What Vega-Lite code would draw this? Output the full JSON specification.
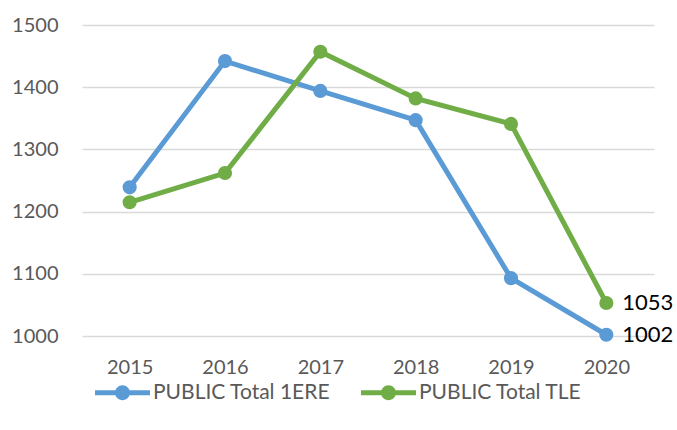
{
  "$schema": "https://vega.github.io/schema/vega-lite/v6.json",
  "width": 572,
  "height": 311,
  "autosize": "none",
  "padding": {"left": 82, "top": 25, "right": 23, "bottom": 94},
  "background": "white",
  "config": {"view": {"stroke": null}, "font": "Lato"},
  "data": {
    "values": [
      {"year": "2015", "series": "PUBLIC Total 1ERE", "value": 1239},
      {"year": "2016", "series": "PUBLIC Total 1ERE", "value": 1442},
      {"year": "2017", "series": "PUBLIC Total 1ERE", "value": 1394},
      {"year": "2018", "series": "PUBLIC Total 1ERE", "value": 1347},
      {"year": "2019", "series": "PUBLIC Total 1ERE", "value": 1093},
      {"year": "2020", "series": "PUBLIC Total 1ERE", "value": 1002},
      {"year": "2015", "series": "PUBLIC Total TLE", "value": 1215},
      {"year": "2016", "series": "PUBLIC Total TLE", "value": 1262},
      {"year": "2017", "series": "PUBLIC Total TLE", "value": 1457},
      {"year": "2018", "series": "PUBLIC Total TLE", "value": 1382},
      {"year": "2019", "series": "PUBLIC Total TLE", "value": 1341},
      {"year": "2020", "series": "PUBLIC Total TLE", "value": 1053}
    ]
  },
  "encoding": {
    "x": {
      "field": "year",
      "type": "ordinal",
      "scale": {"type": "point", "padding": 0.5},
      "axis": {
        "title": null,
        "labelAngle": 0,
        "domain": false,
        "ticks": false,
        "labelPadding": 21,
        "labelFontSize": 20,
        "labelColor": "#595959"
      }
    },
    "y": {
      "field": "value",
      "type": "quantitative",
      "scale": {"domain": [1000, 1500], "nice": false, "zero": false},
      "axis": {
        "title": null,
        "values": [1000, 1100, 1200, 1300, 1400, 1500],
        "format": "d",
        "domain": false,
        "ticks": false,
        "labelPadding": 24,
        "labelFontSize": 20,
        "labelColor": "#595959",
        "gridColor": "#d9d9d9",
        "gridWidth": 1.5
      }
    }
  },
  "layer": [
    {
      "mark": {"type": "line", "strokeWidth": 5, "point": {"filled": true, "size": 200}},
      "encoding": {
        "color": {
          "field": "series",
          "type": "nominal",
          "scale": {"domain": ["PUBLIC Total 1ERE", "PUBLIC Total TLE"], "range": ["#5B9BD5", "#70AD47"]},
          "legend": {
            "title": null,
            "orient": "none",
            "legendX": 13,
            "legendY": 340,
            "direction": "horizontal",
            "symbolType": "M-1,-0.09H1V0.09H-1Z M-0.27,0A0.27,0.27 0 1,1 0.27,0A0.27,0.27 0 1,1 -0.27,0Z",
            "symbolSize": 3025,
            "symbolStrokeWidth": 0,
            "labelFontSize": 21,
            "labelLimit": 0,
            "labelColor": "#595959",
            "labelOffset": 3,
            "columnPadding": 30
          }
        }
      }
    },
    {
      "transform": [{"filter": "datum.year == '2020'"}],
      "mark": {"type": "text", "align": "left", "baseline": "middle", "dx": 16, "fontSize": 22, "color": "black"},
      "encoding": {"text": {"field": "value", "type": "quantitative", "format": "d"}}
    }
  ]
}
